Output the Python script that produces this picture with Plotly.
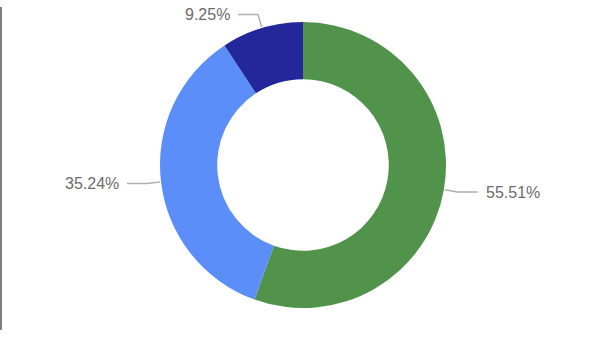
import math
import plotly.graph_objects as go

labels = ["A", "B", "C"]
values = [55.51, 35.24, 9.25]
text_labels = ["55.51%", "35.24%", "9.25%"]
colors = ["#51934b", "#5b8ef8", "#24279a"]

W, H = 600, 340
cx, cy, R = 303, 165, 143
hole = 0.6

fig = go.Figure(go.Pie(
    labels=labels, values=values, sort=False, direction="clockwise", rotation=0,
    hole=hole, textinfo="none", hoverinfo="none",
    marker=dict(colors=colors, line=dict(width=0)),
    domain=dict(x=[(cx - R) / W, (cx + R) / W], y=[1 - (cy + R) / H, 1 - (cy - R) / H]),
    showlegend=False,
))

shapes = []
annotations = []
total = sum(values)
cum = 0
for v, t in zip(values, text_labels):
    mid = (cum + v / 2) / total * 2 * math.pi
    cum += v
    sx, sy = math.sin(mid), -math.cos(mid)
    p0 = (cx + (R + 1) * sx, cy + (R + 1) * sy)
    p1 = (cx + (R + 14) * sx, cy + (R + 14) * sy)
    right = sx >= 0
    p2 = (p1[0] + (20 if right else -20), p1[1])
    path = "M {} {} L {} {} L {} {}".format(
        p0[0] / W, 1 - p0[1] / H, p1[0] / W, 1 - p1[1] / H, p2[0] / W, 1 - p2[1] / H)
    shapes.append(dict(type="path", xref="paper", yref="paper", path=path,
                       line=dict(color="#b0b0b0", width=1.5)))
    annotations.append(dict(
        x=(p2[0] + (6 if right else -6)) / W, y=1 - p2[1] / H,
        xref="paper", yref="paper", text=t, showarrow=False,
        xanchor="left" if right else "right", yanchor="middle",
        font=dict(family="Liberation Sans, Arial, sans-serif", size=16, color="#6b6b6b"),
    ))

shapes.append(dict(type="line", xref="paper", yref="paper",
                   x0=1 / W, x1=1 / W, y0=1 - 7 / H, y1=1 - 330 / H,
                   line=dict(color="#555555", width=1.5)))

fig.update_layout(
    width=W, height=H, margin=dict(l=0, r=0, t=0, b=0),
    paper_bgcolor="white", plot_bgcolor="white",
    shapes=shapes, annotations=annotations,
)
fig.write_html("out.html")
